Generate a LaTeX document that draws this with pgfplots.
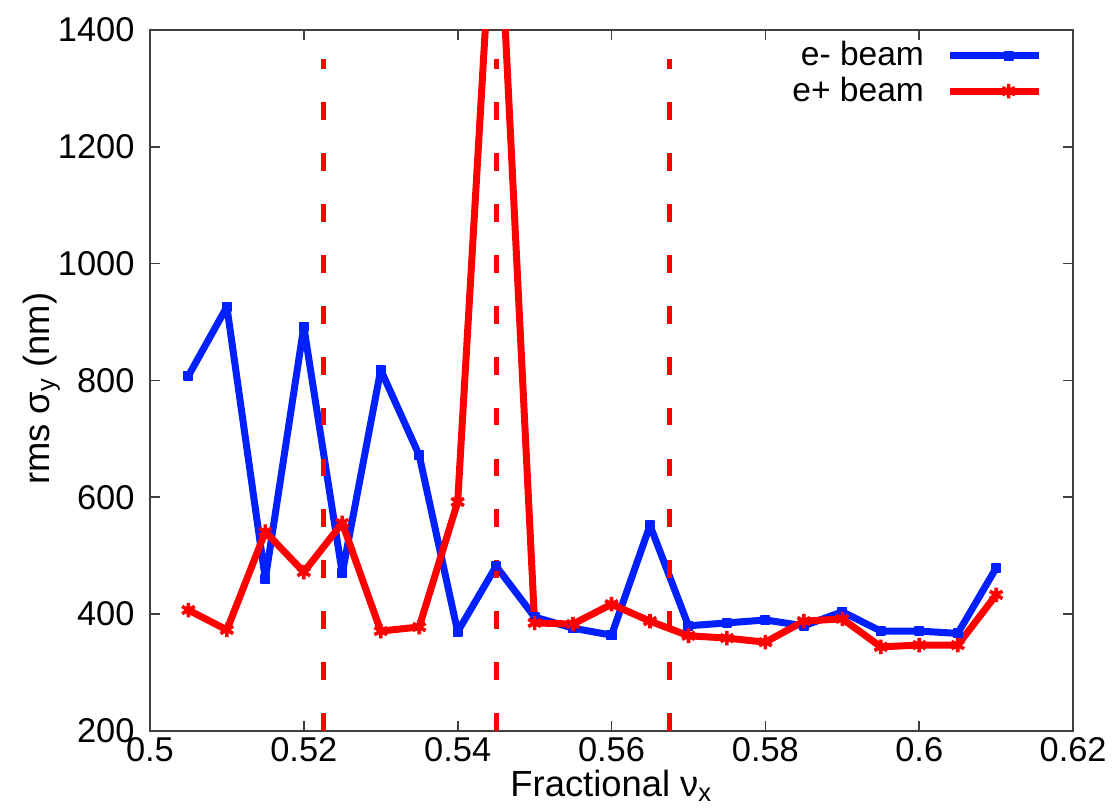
\documentclass[border=0pt]{standalone}
\usepackage{fontspec}
\setmainfont{Liberation Sans}
\usepackage{pgfplots}
\pgfplotsset{compat=1.18}
\definecolor{gblue}{RGB}{0,32,255}
\definecolor{gred}{RGB}{255,0,0}
\begin{document}
\begin{tikzpicture}
\begin{axis}[
  scale only axis, width=330pt, height=250.6pt,
  xmin=0.5, xmax=0.62, ymin=200, ymax=1400,
  xtick={0.5,0.52,0.54,0.56,0.58,0.6,0.62},
  ytick={200,400,600,800,1000,1200,1400},
  tick align=inside, major tick length=3.6pt,
  axis line style={line width=0.6pt, black!75},
  every tick/.style={black!75, line width=0.6pt},
  /pgf/number format/assume math mode=true,
  /pgf/number format/1000 sep={},
  tick label style={font=\fontsize{12.3}{14}\selectfont},
  yticklabel style={xshift=-2pt},
  xticklabel style={yshift=1.2pt},
  xlabel={Fractional ν\textsubscript{x}},
  ylabel={rms σ\textsubscript{y} (nm)},
  label style={font=\fontsize{13}{15}\selectfont},
  xlabel style={at={(axis description cs:0.5,-0.094)}, anchor=base, inner sep=1pt},
  ylabel style={at={(axis description cs:-0.0867,0.488)}, anchor=south},
  legend style={draw=none, fill=none, at={(1,1)}, anchor=north east,
    xshift=-7.6pt, yshift=0pt, font=\fontsize{12}{14}\selectfont,
    row sep=-1.6pt, /tikz/every odd column/.append style={column sep=6pt}},
  legend cell align=right,
  legend plot pos=right,
  legend image code/.code={
    \draw[mark repeat=2,mark phase=2] plot coordinates {(0pt,0pt)(21pt,0pt)(32pt,0pt)};
  },
]
\addplot[gblue, line width=2.5pt, line join=round, mark=square*, mark size=1.5pt, mark options={solid, line width=0.6pt}] coordinates {
(0.505,808)(0.510,926)(0.515,460)(0.520,892)(0.525,470)(0.530,818)(0.535,672)
(0.540,370)(0.545,482)(0.550,395)(0.555,376)(0.560,364)(0.565,552)(0.570,380)
(0.575,385)(0.580,390)(0.585,380)(0.590,404)(0.595,371)(0.600,371)(0.605,367)(0.610,479)
};
\addlegendentry{e- beam}
\addplot[gred, line width=2.5pt, line join=round, mark=asterisk, mark size=2.6pt, mark options={solid, line width=1.3pt}] coordinates {
(0.505,407)(0.510,373)(0.515,541)(0.520,472)(0.525,556)(0.530,371)(0.535,378)
(0.540,592)(0.545,1720)(0.550,385)(0.555,383)(0.560,417)(0.565,388)(0.570,363)
(0.575,359)(0.580,352)(0.585,388)(0.590,392)(0.595,344)(0.600,347)(0.605,347)(0.610,433)
};
\addlegendentry{e+ beam}
\addplot[gred, line width=1.8pt, dash pattern=on 6.4pt off 11.8pt, forget plot] coordinates {(0.5225,200)(0.5225,1350)};
\addplot[gred, line width=1.8pt, dash pattern=on 6.4pt off 11.8pt, forget plot] coordinates {(0.545,200)(0.545,1350)};
\addplot[gred, line width=1.8pt, dash pattern=on 6.4pt off 11.8pt, forget plot] coordinates {(0.5675,200)(0.5675,1350)};
\coordinate (bl) at (rel axis cs:0,0);
\coordinate (tr) at (rel axis cs:1,1);
\end{axis}
\pgfresetboundingbox
\path[use as bounding box] ([xshift=-53.6pt,yshift=-27.9pt]bl) rectangle ([xshift=16.4pt,yshift=10.7pt]tr);
\end{tikzpicture}
\end{document}
